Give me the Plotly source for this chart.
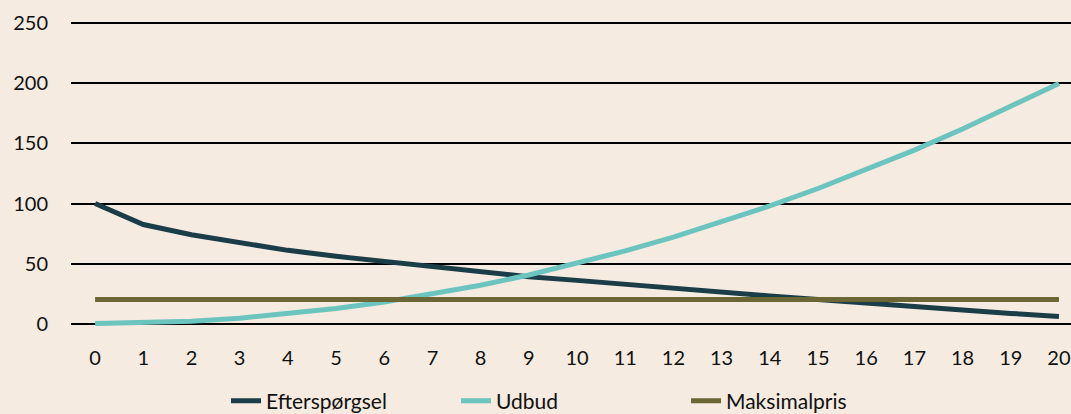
import plotly.graph_objects as go

# ── Colours ────────────────────────────────────────────────────────────────────
BG_COLOR     = "#f5ebe0"
DEMAND_COLOR = "#1b3d47"
SUPPLY_COLOR = "#6cc4bf"
MAXP_COLOR   = "#6b6634"
TEXT_COLOR   = "#111111"

# ── Data ───────────────────────────────────────────────────────────────────────
quantity = [str(q) for q in range(21)]
efterspoergsel = [100, 82.5, 74, 67, 61, 56, 51.5, 47, 43, 39, 36,
                  32.5, 29.5, 26, 23, 20, 17, 13.5, 11, 8.5, 6]
udbud = [0, 0.5, 2, 4.5, 8, 12.5, 18, 24.5, 32, 40.5, 50,
         60.5, 72, 84.5, 98, 112.5, 128, 144.5, 162, 180.5, 200]
maksimalpris = [20] * 21
y_ticks = [0, 50, 100, 150, 200, 250]

fig = go.Figure()
for name, values, color in [
    ("Efterspørgsel", efterspoergsel, DEMAND_COLOR),
    ("Udbud",         udbud,          SUPPLY_COLOR),
    ("Maksimalpris",  maksimalpris,   MAXP_COLOR),
]:
    fig.add_trace(go.Scatter(
        x=quantity, y=values, name=name, mode="lines",
        line=dict(color=color, width=5),
    ))

fig.update_layout(
    width=1071, height=414,
    paper_bgcolor=BG_COLOR, plot_bgcolor=BG_COLOR,
    font=dict(family="Lato, Open Sans, sans-serif", size=20, color=TEXT_COLOR),
    margin=dict(l=71, r=0, t=21, b=88),
    showlegend=True,
    legend=dict(orientation="h", x=0.5, xanchor="center",
                yref="container", y=0.031, yanchor="middle",
                bgcolor="rgba(0,0,0,0)", font=dict(size=21),
                entrywidth=185),
    xaxis=dict(type="category", range=[-0.5, 20.25], showgrid=False,
               zeroline=False, showline=False, ticks="", automargin=False,
               ticklabelstandoff=18, tickfont=dict(size=20)),
    yaxis=dict(range=[-2, 252], tickvals=y_ticks, showgrid=True,
               gridcolor="#000000", gridwidth=1.5, zeroline=False,
               showline=False, ticks="", ticklabelstandoff=22, automargin=False,
               tickfont=dict(size=20)),
)

fig.write_html("out.html",
               config={"displayModeBar": False},
               post_script="document.body.style.margin='0px';"
                           "document.body.style.overflow='hidden';")
